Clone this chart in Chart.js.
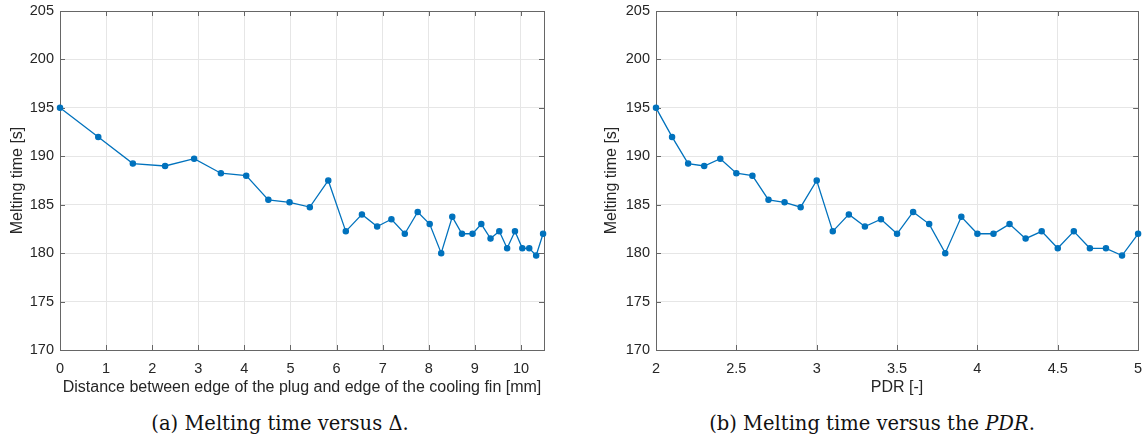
<!DOCTYPE html>
<html>
<head>
<meta charset="utf-8">
<script src="https://cdn.jsdelivr.net/npm/chart.js@4.4.1/dist/chart.umd.min.js"></script>
<style>
    body { margin: 0; background: #fff; width: 1142px; height: 441px; position: relative; overflow: hidden; }
    .box { position: absolute; top: 0; width: 571px; height: 400px; }
    .caption { position: absolute; top: 412px; font-family: "DejaVu Serif", serif; font-size: 19.5px; color: #111; white-space: nowrap; transform: translateX(-50%); }
</style>
</head>
<body>
<div class="box" style="left:0"><canvas id="deltaChart"></canvas></div>
<div class="box" style="left:571px"><canvas id="pdrChart"></canvas></div>
<div class="caption" style="left:280px">(a) Melting time versus &Delta;.</div>
<div class="caption" style="left:872px">(b) Melting time versus the <i>PDR</i>.</div>
<script>
// data srt
const meltTime = [195, 192, 189.25, 189, 189.75, 188.25, 188, 185.5, 185.25, 184.75, 187.5,
    182.25, 184, 182.75, 183.5, 182, 184.25, 183, 180, 183.75, 182, 182, 183, 181.5,
    182.25, 180.5, 182.25, 180.5, 180.5, 179.75, 182];
const deltaMm = [0, 0.83, 1.58, 2.28, 2.91, 3.49, 4.04, 4.52, 4.98, 5.42, 5.82,
    6.2, 6.55, 6.88, 7.19, 7.48, 7.76, 8.02, 8.27, 8.51, 8.72, 8.95, 9.14, 9.34,
    9.53, 9.7, 9.87, 10.03, 10.18, 10.33, 10.48];
const pdrValues = [2, 2.1, 2.2, 2.3, 2.4, 2.5, 2.6, 2.7, 2.8, 2.9, 3, 3.1, 3.2, 3.3, 3.4, 3.5,
    3.6, 3.7, 3.8, 3.9, 4, 4.1, 4.2, 4.3, 4.4, 4.5, 4.6, 4.7, 4.8, 4.9, 5];
const yTicks = [170, 175, 180, 185, 190, 195, 200, 205];
// data end

const blue = '#0072BD';
const tickFont = { family: 'Liberation Sans, Arial, sans-serif', size: 14.5 };
const labelFont = { family: 'Liberation Sans, Arial, sans-serif', size: 16 };

// box + inward ticks like matlab
const matlabBox = {
    id: 'matlabBox',
    beforeDatasetsDraw(chart) {
        const { ctx, chartArea: a, scales } = chart;
        ctx.save();
        ctx.strokeStyle = '#666';
        ctx.lineWidth = 1;
        ctx.beginPath();
        scales.x.ticks.forEach(t => {
            const px = Math.round(scales.x.getPixelForValue(t.value)) + 0.5;
            ctx.moveTo(px, a.bottom); ctx.lineTo(px, a.bottom - 5);
            ctx.moveTo(px, a.top); ctx.lineTo(px, a.top + 5);
        });
        scales.y.ticks.forEach(t => {
            const py = Math.round(scales.y.getPixelForValue(t.value)) + 0.5;
            ctx.moveTo(a.left, py); ctx.lineTo(a.left + 5, py);
            ctx.moveTo(a.right, py); ctx.lineTo(a.right - 5, py);
        });
        ctx.stroke();
        ctx.strokeRect(Math.round(a.left) + 0.5, Math.round(a.top) + 0.5,
            Math.round(a.right - a.left), Math.round(a.bottom - a.top));
        ctx.restore();
    }
};

function makeChart(id, xs, xMin, xMax, xStep, xTitle, yWidth, yTitlePad, padRight) {
    const pts = xs.map((x, i) => ({ x: x, y: meltTime[i] }));
    return new Chart(document.getElementById(id), {
        type: 'scatter',
        data: {
            datasets: [{
                data: pts,
                showLine: true,
                clip: false,
                borderColor: blue,
                backgroundColor: blue,
                borderWidth: 1.3,
                pointRadius: 2.6,
                pointHoverRadius: 2.6,
                tension: 0
            }]
        },
        options: {
            responsive: true,
            maintainAspectRatio: false,
            animation: false,
            layout: { padding: { top: 11, right: padRight, bottom: 0, left: 0 } },
            plugins: { legend: { display: false }, tooltip: { enabled: false } },
            scales: {
                x: {
                    type: 'linear',
                    min: xMin,
                    max: xMax,
                    afterFit: (s) => { s.height = 50; s.paddingLeft = 0; s.paddingRight = 0; },
                    ticks: {
                        stepSize: xStep, includeBounds: false, color: '#262626', font: tickFont, padding: 10, maxRotation: 0,
                        callback: (v) => String(Number(v.toFixed(2)))
                    },
                    grid: { color: '#e6e6e6', drawTicks: false },
                    border: { display: false },
                    title: { display: true, text: xTitle, color: '#262626', font: labelFont, padding: { top: 0, bottom: 3 } }
                },
                y: {
                    min: 170,
                    max: 205,
                    afterFit: (s) => { s.width = yWidth; s.paddingTop = 0; s.paddingBottom = 0; },
                    afterBuildTicks: (s) => { s.ticks = yTicks.map(v => ({ value: v })); },
                    ticks: { color: '#262626', font: tickFont, padding: 6 },
                    grid: { color: '#e6e6e6', drawTicks: false },
                    border: { display: false },
                    title: { display: true, text: 'Melting time [s]', color: '#262626', font: labelFont, padding: { top: yTitlePad, bottom: 0 } }
                }
            }
        },
        plugins: [matlabBox]
    });
}

makeChart('deltaChart', deltaMm, 0, 10.5, 1,
    'Distance between edge of the plug and edge of the cooling fin [mm]', 60, 8, 27);
makeChart('pdrChart', pdrValues, 2, 5, 0.5, 'PDR [-]', 85, 31, 2);
</script>
</body>
</html>
